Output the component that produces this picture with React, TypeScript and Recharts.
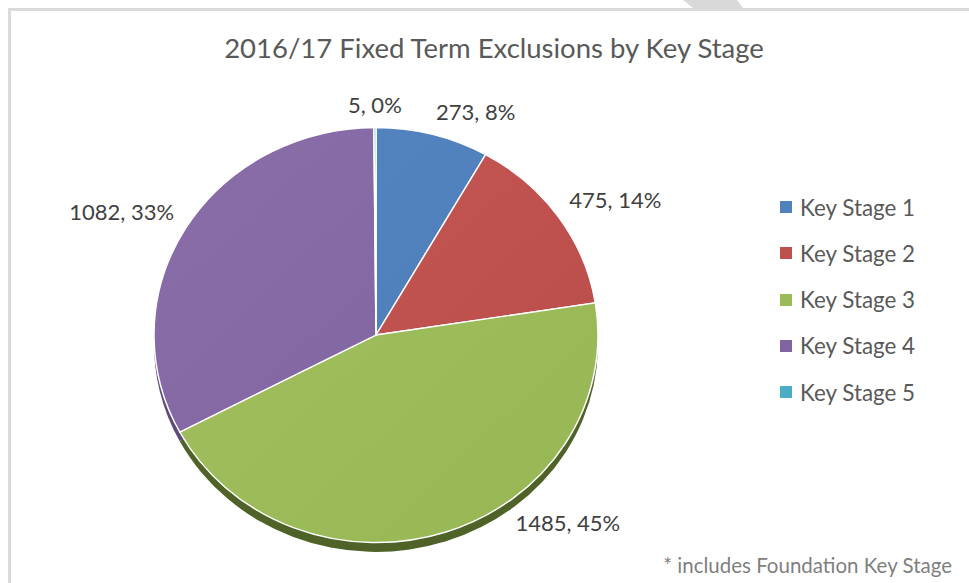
import React from "react";
import { PieChart, Pie, Cell } from "recharts";

const categories = ["Key Stage 1", "Key Stage 2", "Key Stage 3", "Key Stage 4", "Key Stage 5"];
const exclusions = [273, 475, 1485, 1082, 5];

const sliceLight = ["#5586c2", "#c75855", "#a3c160", "#8a6ea8", "#52b3cc"];
const sliceDark = ["#4a7bb6", "#b84b48", "#97b654", "#7e62a0", "#45a6c0"];
const legendColors = ["#4f81bd", "#c0504d", "#9bbb59", "#8064a2", "#4bacc6"];
const depthColors = ["#3b6190", "#903c3a", "#4f6228", "#5f4b7a", "#388196"];

const W = 969;
const H = 583;
const CX = 376;
const CY = 335;
const R = 222;
const K = 0.935; // vertical squash for the tilted look
const FONT = "Lato, 'Open Sans', sans-serif";
const RADIAN = Math.PI / 180;

// Excel pushed the big slice's label round towards its right edge
const labelNudge: Record<string, number> = { "Key Stage 3": 18 };

const data = categories.map((name, i) => ({ name, value: exclusions[i] }));

const renderLabel = (props: any) => {
  const { cx, cy, midAngle, outerRadius, percent, value, index } = props;
  const angle = (midAngle + (labelNudge[categories[index]] || 0)) * RADIAN;
  const r = outerRadius + 13;
  const cos = Math.cos(angle);
  const sin = Math.sin(angle);
  const x = cx + r * cos;
  // label box sits just outside the rim; work out its centre on screen,
  // then map it back into the squashed chart space
  const yScreen = cy - r * sin * K - Math.sign(sin) * 11;
  const y = cy + (yScreen - cy) / K;
  const anchor = Math.abs(cos) < 0.1 ? "middle" : cos > 0 ? "start" : "end";
  return (
    <text
      x={x}
      y={y}
      textAnchor={anchor}
      dominantBaseline="central"
      fill="#404040"
      fontSize={22}
      fontFamily={FONT}
      transform={`translate(${x} ${y}) scale(1 ${1 / K}) translate(${-x} ${-y})`}
    >
      {`${value}, ${Math.round(percent * 100)}%`}
    </text>
  );
};

export default function App() {
  return (
    <div
      style={{
        position: "absolute",
        left: 0,
        top: 0,
        width: W,
        height: H,
        background: "#fff",
        overflow: "hidden",
        fontFamily: FONT,
      }}
    >
      <div
        style={{
          position: "absolute",
          left: 683,
          top: 0,
          width: 60,
          height: 8,
          background: "#d9d9d9",
          clipPath: "polygon(0 0, 54px 0, 60px 100%, 10px 100%)",
        }}
      />
      <div
        style={{
          position: "absolute",
          left: 8,
          top: 8,
          width: W,
          height: H,
          border: "3px solid #dadada",
        }}
      />

      <div style={{ position: "absolute", left: 0, top: 0, transform: `scaleY(${K})`, transformOrigin: `0px ${CY}px` }}>
        <PieChart width={W} height={H} margin={{ top: 0, right: 0, bottom: 0, left: 0 }}>
          <defs>
            {sliceLight.map((c, i) => (
              <linearGradient key={i} id={`slice${i}`} x1={CX - R} y1={CY - R} x2={CX + R} y2={CY + R} gradientUnits="userSpaceOnUse">
                <stop offset="0%" stopColor={c} />
                <stop offset="100%" stopColor={sliceDark[i]} />
              </linearGradient>
            ))}
          </defs>
          <Pie
            data={data}
            dataKey="value"
            nameKey="name"
            cx={CX}
            cy={CY + 10}
            outerRadius={R}
            startAngle={90}
            endAngle={-270}
            stroke="none"
            label={false}
            labelLine={false}
            isAnimationActive={false}
          >
            {data.map((d, i) => (
              <Cell key={d.name} fill={depthColors[i]} />
            ))}
          </Pie>
          <Pie
            data={data}
            dataKey="value"
            nameKey="name"
            cx={CX}
            cy={CY}
            outerRadius={R}
            startAngle={90}
            endAngle={-270}
            stroke="#ffffff"
            strokeWidth={1.5}
            label={renderLabel}
            labelLine={false}
            isAnimationActive={false}
          >
            {data.map((d, i) => (
              <Cell key={d.name} fill={`url(#slice${i})`} />
            ))}
          </Pie>
        </PieChart>
      </div>

      <div
        style={{
          position: "absolute",
          left: 0,
          width: 988,
          top: 31,
          textAlign: "center",
          fontSize: 27.5,
          color: "#595959",
          lineHeight: "34px",
        }}
      >
        2016/17 Fixed Term Exclusions by Key Stage
      </div>

      {categories.map((name, i) => (
        <div
          key={name}
          style={{
            position: "absolute",
            left: 780,
            top: 207 + i * 46.3 - 12,
            height: 24,
            display: "flex",
            alignItems: "center",
            fontSize: 22.4,
            color: "#595959",
          }}
        >
          <span style={{ width: 12, height: 12, background: legendColors[i], marginRight: 8, display: "inline-block" }} />
          {name}
        </div>
      ))}

      <div
        style={{
          position: "absolute",
          right: 17,
          top: 552,
          fontSize: 20.5,
          lineHeight: "26px",
          color: "#7f7f7f",
        }}
      >
        * includes Foundation Key Stage
      </div>
    </div>
  );
}
